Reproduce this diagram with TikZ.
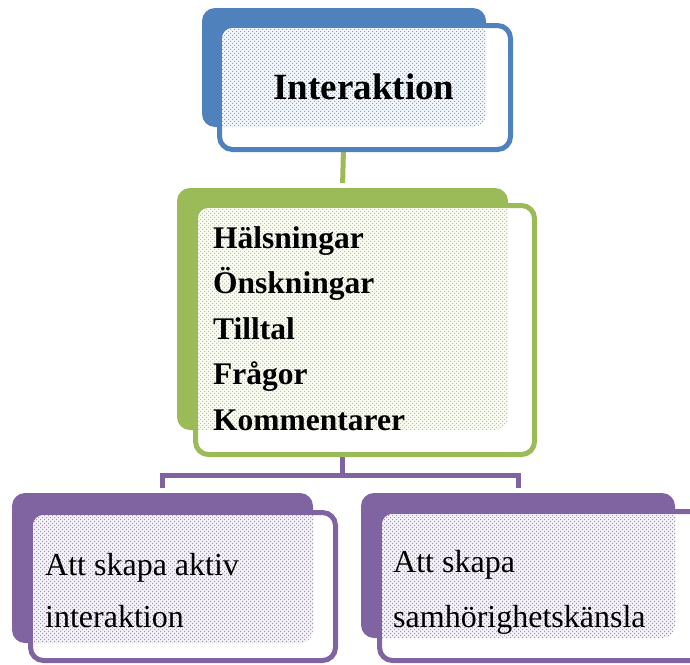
\documentclass[tikz,border=0pt]{standalone}
\usepackage{fontspec}
\setmainfont{Liberation Serif}
\usetikzlibrary{patterns,calc}

\definecolor{offblue}{HTML}{4F81BD}
\definecolor{offgreen}{HTML}{9BBB59}
\definecolor{offpurple}{HTML}{8064A2}

% staggered grid of small square dots
\pgfdeclarepatternformonly{finedots}{\pgfqpoint{-0.5pt}{-0.5pt}}{\pgfqpoint{4.5pt}{4.5pt}}{\pgfqpoint{4pt}{4pt}}{%
  \pgfpathrectangle{\pgfqpoint{0pt}{0pt}}{\pgfqpoint{1.1pt}{1.1pt}}%
  \pgfpathrectangle{\pgfqpoint{2pt}{2pt}}{\pgfqpoint{1.1pt}{1.1pt}}%
  \pgfusepath{fill}}

\tikzset{
  frontbox/.style={rectangle, rounded corners=13pt, fill=white, draw=#1,
                   line width=5pt, outer sep=0pt, inner sep=0pt},
  anchorbox/.style={rectangle, inner sep=0pt, outer sep=0pt},
  link/.style={draw=#1, line width=5pt, shorten >=5pt},
  headtext/.style={inner sep=0pt, font=\bfseries\fontsize{37}{40}\selectfont},
  listtext/.style={anchor=base west, inner sep=0pt, font=\bfseries\fontsize{31.5}{36}\selectfont},
  leaftext/.style={anchor=base west, inner sep=0pt, font=\fontsize{32}{36}\selectfont},
}

% dotted tint over the overlap of a front box and its back box
\newcommand{\dottedoverlap}[3]{%
  \begin{scope}
    \clip[rounded corners=10.5pt] ($(#1.north west)+(2.5,2.5)$) rectangle ($(#1.south east)+(-2.5,-2.5)$);
    \fill[#3!7!white, rounded corners=13pt] (#2.north west) rectangle (#2.south east);
    \fill[pattern=finedots, pattern color=#3!70!white, rounded corners=13pt] (#2.north west) rectangle (#2.south east);
  \end{scope}}

\begin{document}
\begin{tikzpicture}[x=1pt,y=-1pt]
  \useasboundingbox (0,0) rectangle (690,664);
  \clip (0,0) rectangle (690,664);

  % back boxes (placed first so the links can start from them)
  \node[anchorbox, minimum width=284pt, minimum height=119pt] (topback) at (344,67.5) {};
  \node[anchorbox, minimum width=331pt, minimum height=242pt] (midback) at (342.5,309) {};
  \node[anchorbox, minimum width=301pt, minimum height=150pt] (leftback) at (162.5,568) {};
  \node[anchorbox, minimum width=314pt, minimum height=145pt] (rightback) at (518,565.5) {};

  % links
  \draw[link=offgreen] (topback.south) -- (midback.north);
  \draw[link=offpurple] (midback.south) -- ++(0,45) coordinate (split) -| (leftback.north);
  \draw[link=offpurple] (split) -| (rightback.north);

  % top block
  \fill[offblue, rounded corners=13pt] (topback.north west) rectangle (topback.south east);
  \node[frontbox=offblue, minimum width=291pt, minimum height=124pt] (topfront) at (365,87.5) {};
  \dottedoverlap{topfront}{topback}{offblue}
  \node[headtext, anchor=base] (head) at (364,99) {Interaktion};

  % middle block
  \fill[offgreen, rounded corners=13pt] (midback.north west) rectangle (midback.south east);
  \node[frontbox=offgreen, minimum width=339pt, minimum height=249pt] (midfront) at (365,330) {};
  \dottedoverlap{midfront}{midback}{offgreen}
  \node[listtext] (l1) at (213,248) {Hälsningar};
  \node[listtext] (l2) at (213,293.5) {Önskningar};
  \node[listtext] (l3) at (213,339) {Tilltal};
  \node[listtext] (l4) at (213,384.5) {Frågor};
  \node[listtext] (l5) at (213,430) {Kommentarer};

  % bottom left block
  \fill[offpurple, rounded corners=13pt] (leftback.north west) rectangle (leftback.south east);
  \node[frontbox=offpurple, minimum width=305pt, minimum height=148pt] (leftfront) at (183,586.5) {};
  \dottedoverlap{leftfront}{leftback}{offpurple}
  \node[leaftext] (a1) at (45,575) {Att skapa aktiv};
  \node[leaftext] (a2) at (45,627) {interaktion};

  % bottom right block
  \fill[offpurple, rounded corners=13pt] (rightback.north west) rectangle (rightback.south east);
  \node[frontbox=offpurple, minimum width=325pt, minimum height=149pt] (rightfront) at (542,586) {};
  \dottedoverlap{rightfront}{rightback}{offpurple}
  \node[leaftext] (b1) at (393,572) {Att skapa};
  \node[leaftext] (b2) at (393,627) {samhörighetskänsla};
\end{tikzpicture}
\end{document}
